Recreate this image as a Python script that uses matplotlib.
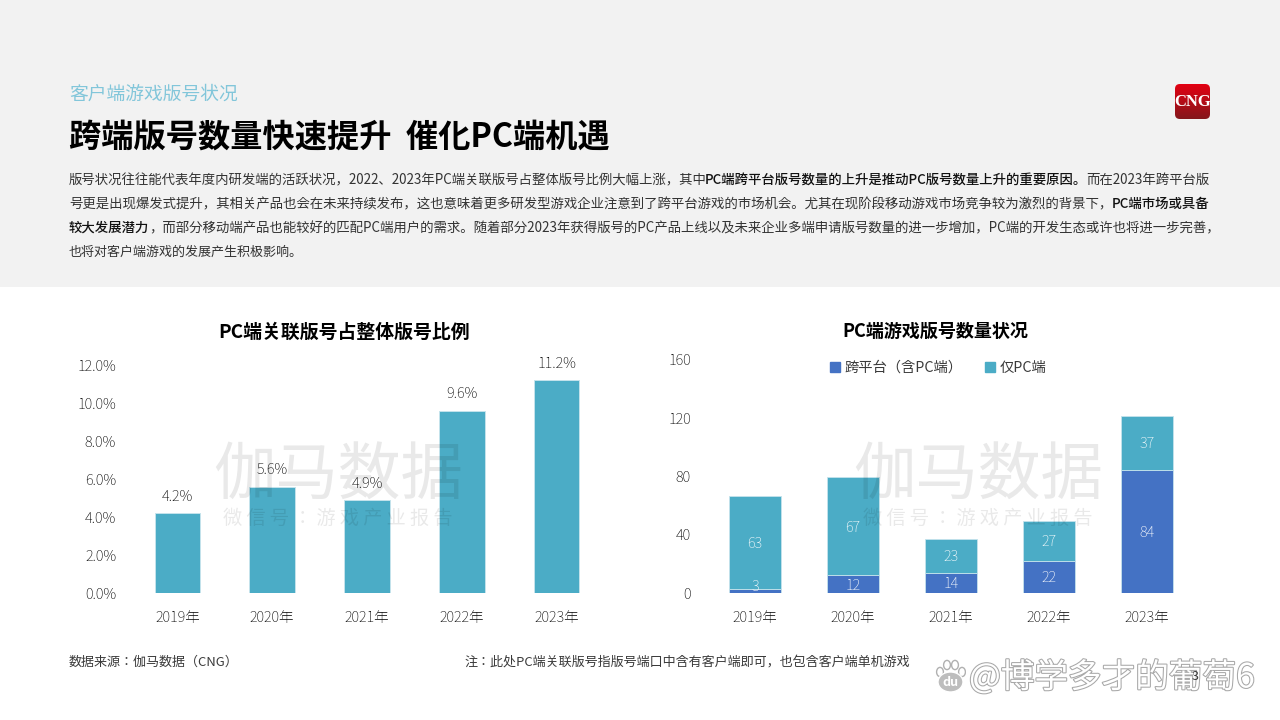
import matplotlib
matplotlib.use("Agg")
import matplotlib.pyplot as plt
import matplotlib.patheffects as pe
from matplotlib import font_manager as fm
from matplotlib.patches import Rectangle, FancyBboxPatch, Ellipse, Patch
import numpy as np

available = {f.name for f in fm.fontManager.ttflist}
CJK = next((n for n in ["Noto Sans CJK SC", "Noto Sans CJK JP", "Noto Sans CJK TC", "Noto Sans CJK KR",
                        "Noto Sans CJK HK"] if n in available), "DejaVu Sans")
plt.rcParams["font.family"] = [CJK, "DejaVu Sans"]

years = ["2019年", "2020年", "2021年", "2022年", "2023年"]
share_values = [4.2, 5.6, 4.9, 9.6, 11.2]
share_labels = ["4.2%", "5.6%", "4.9%", "9.6%", "11.2%"]
share_ticks = [0, 2, 4, 6, 8, 10, 12]
cross_platform = [3, 12, 14, 22, 84]
pc_only = [63, 67, 23, 27, 37]
count_ticks = [0, 40, 80, 120, 160]

W, H = 1280, 720
TEAL = "#4BACC6"
BLUE = "#4472C4"
EDGE = "#C5E3EC"
DARK = "#3A3A3A"
TICK = "#000000"
LIGHT = "light"
FULLWIDTH = str.maketrans({",": "\uff0c", ":": "\uff1a", "(": "\uff08", ")": "\uff09"})


def fw(s):
    return s.translate(FULLWIDTH)


fig = plt.figure(figsize=(12.8, 7.2), dpi=100, facecolor="white")
fig.add_artist(Rectangle((0, 1 - 287 / H), 1, 287 / H, transform=fig.transFigure,
                         facecolor="#F2F2F2", edgecolor="none", zorder=-5))


def T(x, y, s, size, color=DARK, weight="normal", ha="left", va="center", **kw):
    return fig.text(x / W, 1 - y / H, s, fontsize=size, color=color, weight=weight,
                    ha=ha, va=va, **kw)


T(69, 94, "客户端游戏版号状况", 13.5, color="#82C6DA")
T(69, 137, "跨端版号数量快速提升  催化PC端机遇", 23.2, color="black", weight="bold")

body_lines = [
    ([("版号状况往往能代表年度内研发端的活跃状况,2022、2023年PC端关联版号占整体版号比例大幅上涨,其中", False),
      ("PC端跨平台版号数量的上升是推动PC版号数量上升的重要原因。", True),
      ("而在2023年跨平台版", False)], 180, 1209),
    ([("号更是出现爆发式提升,其相关产品也会在未来持续发布,这也意味着更多研发型游戏企业注意到了跨平台游戏的市场机会。尤其在现阶段移动游戏市场竞争较为激烈的背景下,", False),
      ("PC端市场或具备", True)], 204, 1209),
    ([("较大发展潜力", True),
      (",而部分移动端产品也能较好的匹配PC端用户的需求。随着部分2023年获得版号的PC产品上线以及未来企业多端申请版号数量的进一步增加,PC端的开发生态或许也将进一步完善,", False)], 228, 1222),
    ([("也将对客户端游戏的发展产生积极影响。", False)], 252, None),
]
renderer = fig.canvas.get_renderer()
BASE = 9.4
for runs, y, right in body_lines:
    arts = [T(69, y, fw(s), BASE, color="#111111" if b else "#333333", weight="medium" if b else "normal")
            for s, b in runs]
    widths = [a.get_window_extent(renderer).width for a in arts]
    scale = (right - 69) / sum(widths) if right else 1.0
    x = 69.0
    for a, w in zip(arts, widths):
        a.set_fontsize(BASE * scale)
        a.set_position((x / W, 1 - y / H))
        x += w * scale

# logo
lx0, ly0, lw, lh = 1175, 84, 35, 35
lax = fig.add_axes([lx0 / W, 1 - (ly0 + lh) / H, lw / W, lh / H])
lax.axis("off")
lax.set_xlim(0, 1)
lax.set_ylim(0, 1)
grad = np.linspace(0, 1, 64)[:, None, None]
top = np.array([0.90, 0.0, 0.07])[None, None, :]
bot = np.array([0.52, 0.09, 0.11])[None, None, :]
im = lax.imshow(top * (1 - grad) + bot * grad, extent=(0, 1, 0, 1), aspect="auto")
clip = FancyBboxPatch((0, 0), 1, 1, boxstyle="round,pad=0,rounding_size=0.14",
                      transform=lax.transData, facecolor="none", edgecolor="none")
lax.add_patch(clip)
im.set_clip_path(clip)
lax.text(0.5, 0.5, "CNG", color="white", fontsize=12, weight="bold", ha="center", va="center",
         family="Liberation Serif")

# left chart
ax1 = fig.add_axes([130 / W, 1 - 593 / H, 474 / W, 228 / H])
x = np.arange(len(years))
bars = ax1.bar(x, share_values, width=0.48, color=TEAL, edgecolor=EDGE, linewidth=0.7)
ax1.bar_label(bars, labels=share_labels, padding=6, fontsize=10.5, color=TICK, weight=LIGHT)
ax1.set_xlim(-0.5, 4.5)
ax1.set_ylim(0, 12)
ax1.set_yticks(share_ticks)
ax1.set_yticklabels([f"{t:.1f}%" for t in share_ticks], fontsize=10.5, color=TICK, weight=LIGHT)
ax1.set_xticks(x)
ax1.set_xticklabels(years, fontsize=10.5, color=TICK, weight=LIGHT)
ax1.tick_params(length=0, axis="y", pad=10)
ax1.tick_params(length=0, axis="x", pad=12)
for s in ax1.spines.values():
    s.set_visible(False)

# right chart
ax2 = fig.add_axes([706 / W, 1 - 593 / H, 490 / W, 234 / H])
b1 = ax2.bar(x, cross_platform, width=0.53, color=BLUE, edgecolor=EDGE, linewidth=0.6)
b2 = ax2.bar(x, pc_only, width=0.53, bottom=cross_platform, color=TEAL, edgecolor=EDGE, linewidth=0.6)
labels1 = ax2.bar_label(b1, label_type="center", color="white", fontsize=10.5, weight=LIGHT)
labels2 = ax2.bar_label(b2, label_type="center", color="white", fontsize=10.5, weight=LIGHT)
for lb in list(labels1) + list(labels2):
    lb.xyann = (0, -1)
labels1[0].xyann = (0, 3)
ax2.set_xlim(-0.5, 4.5)
ax2.set_ylim(0, 160)
ax2.set_yticks(count_ticks)
ax2.set_yticklabels([str(t) for t in count_ticks], fontsize=10.5, color=TICK, weight=LIGHT)
ax2.set_xticks(x)
ax2.set_xticklabels(years, fontsize=10.5, color=TICK, weight=LIGHT)
ax2.tick_params(length=0, axis="y", pad=11)
ax2.tick_params(length=0, axis="x", pad=12)
for s in ax2.spines.values():
    s.set_visible(False)

fig.legend(handles=[Patch(color=BLUE, label=fw("跨平台(含PC端)")), Patch(color=TEAL, label="仅PC端")],
           loc="center", bbox_to_anchor=(938 / W, 1 - 368 / H), ncol=2, frameon=False,
           fontsize=10.3, labelcolor=DARK, handlelength=0.7, handleheight=0.7,
           handletextpad=0.3, columnspacing=1.6, borderpad=0)

T(344, 332, "PC端关联版号占整体版号比例", 13.6, color="black", weight="bold", ha="center")
T(935, 331, "PC端游戏版号数量状况", 13, color="black", weight="bold", ha="center")

# page watermark
for cx in (338, 978):
    T(cx, 477, "伽马数据", 45, color="#000000", ha="center", alpha=0.085, zorder=6)
    T(cx, 518, fw("微 信 号 : 游 戏 产 业 报 告"), 13.8, color="#000000", ha="center", alpha=0.085, zorder=6)

T(69, 662, fw("数据来源:伽马数据(CNG)"), 9.4, color=DARK)
T(464, 662, fw("注:此处PC端关联版号指版号端口中含有客户端即可,也包含客户端单机游戏"), 9.4, color=DARK)
T(1192, 677, "3", 9, color=DARK, zorder=9)

# corner stamp
stroke = [pe.withStroke(linewidth=1.5, foreground="#A8A8A8")]
T(969, 678, "@博学多才的葡萄6", 24.2, color="white", zorder=8, path_effects=stroke)
pax = fig.add_axes([934 / W, 1 - 694 / H, 32 / W, 36 / H], facecolor="none")
pax.axis("off")
pax.set_xlim(0, 32)
pax.set_ylim(36, 0)
pax.set_zorder(8)
for cxp, cyp, rx, ry in [(6, 14, 3.4, 4.6), (13, 7, 3.4, 4.6), (21, 7, 3.4, 4.6), (28, 14, 3.4, 4.6)]:
    pax.add_patch(Ellipse((cxp, cyp), rx * 2, ry * 2, facecolor="white", edgecolor="#B0B0B0", lw=1))
pax.add_patch(Ellipse((16.5, 24), 25, 20, facecolor="#BDBDBD", edgecolor="white", lw=1))
pax.text(16.5, 24.5, "du", fontsize=9, weight="bold", color="white", ha="center", va="center")

fig.savefig("out.png", dpi=100, facecolor="white")
